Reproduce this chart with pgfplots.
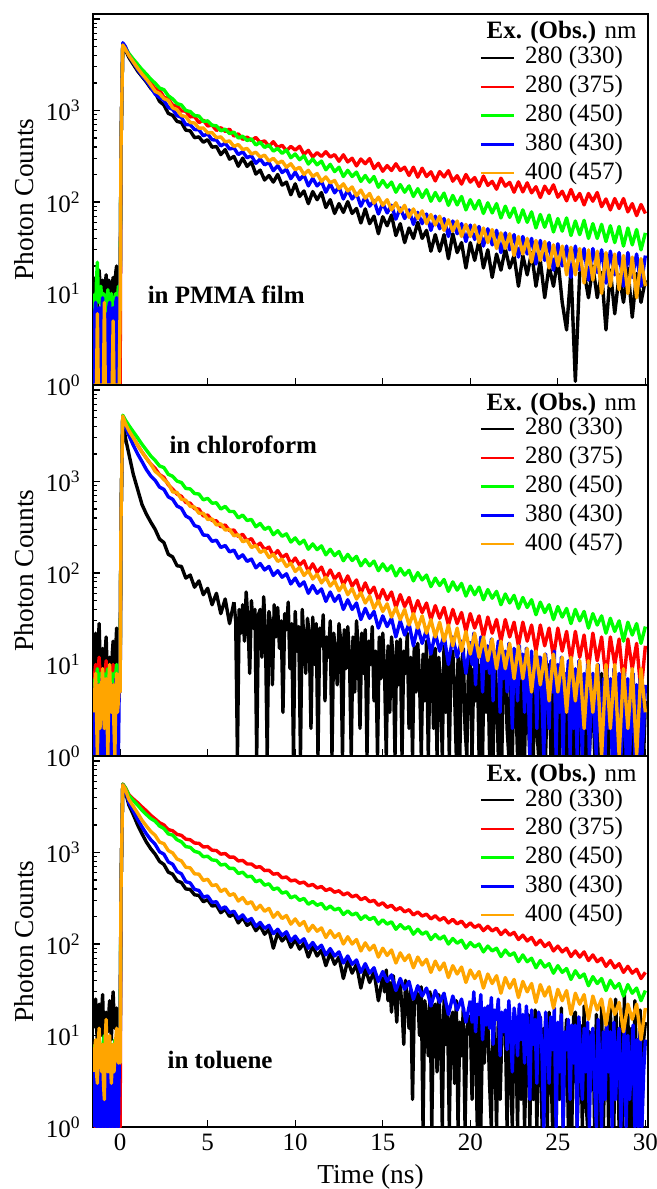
\documentclass[border=0pt]{standalone}
\usepackage{fontspec}
\setmainfont{Liberation Serif}
\usepackage{pgfplots}
\usepackage{pgfplotstable}
\pgfplotsset{compat=1.18}
\definecolor{cgreen}{RGB}{0,255,0}
\definecolor{corange}{RGB}{255,165,0}
\definecolor{cred}{RGB}{255,0,0}
\definecolor{cblue}{RGB}{0,0,255}
\newcommand\ls{\fontsize{12.5}{15}\selectfont}
\newcommand\lab{\fontsize{13.7}{16}\selectfont}

% PMMA film
\pgfplotstableread{
x k r g b o
-1.5 8 1 10 1 1
-1.45 12 1 7 6 1
-1.4 15 1 6 8 1
-1.35 9 1 14 1 1
-1.3 6 1 22 1 6
-1.25 11 1 10 5 1
-1.2 18 1 8 7 1
-1.15 13 1 9 1 1
-1.1 9 1 12 1 1
-1.05 10 1 8 6 1
-1.0 14 1 6 9 1
-0.95 11 1 10 1 1
-0.9 7 1 9 1 8
-0.85 12 1 7 5 1
-0.8 16 1 5 6 1
-0.75 8 1 9 1 1
-0.7 10 1 11 1 1
-0.65 14 1 8 7 1
-0.6 13 1 7 8 1
-0.55 9 1 9 1 1
-0.5 8 1 10 1 1
-0.45 12 1 7 6 1
-0.4 15 1 6 7 5
-0.35 10 1 8 1 1
-0.3 9 1 9 1 1
-0.25 17 1 10 8 1
-0.2 20 1 8 9 1
-0.15 14 1 9 1 1
-0.1 11 1 12 1 1
-0.05 9 1 10 7 1
0 12 1 10 8 8
0.05 400 400 400 400 400
0.15 5100 5300 5300 5500 5200
0.3 4600 4800 4900 5000 4700
0.5 3800 4000 4200 4000 4000
0.75 3200 3450 3650 3350 3400
1 2700 3000 3200 2800 2900
1.25 2350 2600 2800 2400 2500
1.5 2050 2300 2500 2100 2200
1.75 1750 2000 2200 1800 1900
2 1560 1735 1990 1510 1620
2.25 1260 1680 1760 1390 1530
2.5 1150 1400 1690 1290 1350
2.75 930 1345 1450 1080 1290
3 885 1145 1340 1030 1070
3.25 760 1120 1190 880 1020
3.5 740 990 1150 840 880
3.75 610 985 1000 700 860
4 600 853 975 700 740
4.25 505 860 880 620 730
4.5 515 738 870 615 640
4.75 450 786 760 530 645
5 480 678 770 555 570
5.25 398 694 690 480 575
5.5 404 606 680 475 505
5.75 330 650 600 410 515
6 374 591 625 440 455
6.25 294 626 560 380 465
6.5 315 525 580 390 405
6.75 246 556 500 330 425
7 302 484 525 355 375
7.25 245 513 470 305 385
7.5 274 470 490 320 335
7.75 202 508 420 265 350
8 223 448 450 295 310
8.25 174 466 395 255 325
8.5 195 406 420 270 280
8.75 165 456 360 220 300
9 200 394 385 250 265
9.25 153 417 340 210 280
9.5 165 364 370 228 240
9.75 120 405 305 180 262
10 158 369 335 212 225
10.25 115 406 290 175 240
10.5 132 332 320 198 200
10.75 96 367 260 150 222
11 130 311 295 182 190
11.25 106 346 255 150 205
11.5 127 315 280 168 168
11.75 87 355 225 128 188
12 106 310 258 158 162
12.25 75 329 215 126 172
12.5 96 279 240 146 140
12.75 77 328 190 108 158
13 101 274 222 135 132
13.25 75 301 190 108 146
13.5 85 248 212 124 117
13.75 59 295 168 90 135
14 84 262 195 114 110
14.25 58 298 165 90 124
14.5 70 232 190 104 97
14.75 45 265 145 74 113
15 69 217 172 97 92
15.25 55 250 145 76 106
15.5 72 221 165 92 82
15.75 43 262 128 65 98
16 58 221 155 86 78
16.25 36 240 128 66 92
16.5 52 195 150 82 68
16.75 40 240 115 57 84
17 60 187 140 77 66
17.25 40 234 112 58 80
17.5 49 190 136 74 58
17.75 29 214 102 49 73
18 44 170 127 70 56
18.25 29 215 103 51 70
18.5 44 188 125 66 49
18.75 24 220 92 42 64
19 45 169 118 62 48
19.25 28 194 93 45 62
19.5 36 157 115 58 42
19.75 19 200 82 37 57
20 36 165 106 56 42
20.25 23 185 84 39 56
20.5 38 148 104 54 36
20.75 19 192 75 33 52
21 30 152 98 51 36
21.25 15 168 76 34 50
21.5 27 138 96 49 31
21.75 18 182 67 28 46
22 31 149 90 46 31
22.25 19 164 68 30 45
22.5 26 128 86 44 26
22.75 12 166 60 25 42
23 26 129 82 42 27
23.25 16 162 60 27 40
23.5 28 126 78 40 22
23.75 12 147 52 21 38
24 23 112 73 38 23
24.25 9 149 53 23 37
24.5 20 124 72 36 19
24.75 12 154 47 18 34
25 24 113 66 35 20
25.25 8 131 48 20 33
25.5 4 103 67 33 16
25.75 18 137 43 15 32
26 1.1 104 62 33 16
26.25 17 124 44 18 31
26.5 17 93 63 31 13
26.75 9 124 40 14 30
27 20 102 58 31 14
27.25 9 127 40 17 29
27.5 17 89 57 30 10
27.75 4 108 37 13 28
28 18 82 55 29 12
28.25 6 109 36 16 27
28.5 16 85 54 28 11
28.75 8 109 33 12 26
29 19 78 52 28 10
29.25 5.5 96 34 15 25
29.5 16.5 71 50 27 9
29.75 8 94 30 12 24
30 14 75 46 26 12
}\tA

% chloroform
\pgfplotstableread{
x k r g b o
-1.5 9 6 7 1 3
-1.45 14 8 6 5 5
-1.4 22 10 5 6 8
-1.35 10 6 7 1 3
-1.3 6 4 9 1 1
-1.25 16 9 6 6 5
-1.2 28 12 5 5 6
-1.15 12 8 7 1 2
-1.1 8 7 8 1 4
-1.05 11 6 6 7 6
-1.0 15 9 6 7 9
-0.95 9 7 8 1 3
-0.9 5 5 7 1 2
-0.85 14 8 6 6 5
-0.8 20 11 5 4 7
-0.75 10 6 8 1 3
-0.7 7 4 9 1 1
-0.65 9 7 7 5 6
-0.6 12 8 6 6 10
-0.55 8 5 7 1 4
-0.5 6 6 8 1 3
-0.45 13 8 6 6 5
-0.4 18 10 5 5 6
-0.35 9 6 8 1 2
-0.3 4 3 7 1 1
-0.25 15 7 8 7 5
-0.2 25 9 10 6 8
-0.15 14 8 7 1 3
-0.1 10 7 6 1 4
-0.05 12 9 8 6 6
0 10 8 8 5 5
0.05 400 400 400 400 400
0.15 5000 5200 5300 5100 5200
0.3 3000 4300 4700 4000 4300
0.5 2000 3600 4100 3200 3600
0.75 1200 3000 3500 2500 3000
1 820 2500 3000 2000 2500
1.25 560 2100 2550 1650 2100
1.5 440 1800 2200 1350 1800
1.75 360 1550 1900 1150 1550
2 300 1390 1700 1030 1290
2.25 235 1190 1480 870 1180
2.5 215 1110 1420 820 1050
2.75 160 920 1200 680 950
3 150 825 1140 640 770
3.25 120 730 1010 540 760
3.5 118 690 975 510 640
3.75 88 590 840 420 625
4 95 580 830 395 535
4.25 70 505 740 330 525
4.5 82 500 730 318 450
4.75 58 420 630 260 450
5 68 430 655 258 385
5.25 45 375 580 222 390
5.5 60 372 585 228 335
5.75 36 320 500 190 345
6 52 335 535 200 295
6.25 28 290 470 170 300
6.5 48 295 470 178 255
6.75 1 250 400 145 262
7 45 265 430 158 220
7.25 20 225 375 134 228
7.5 62 238 385 142 190
7.75 15 195 320 114 200
8 40 212 348 127 168
8.25 10 180 300 108 178
8.5 35 192 318 118 148
8.75 6 155 262 94 160
9 42 176 290 106 134
9.25 12 148 252 90 142
9.5 30 160 268 98 118
9.75 3 126 218 76 128
10 38 146 242 88 104
10.25 8 122 208 72 116
10.5 28 136 228 80 94
10.75 1 104 182 60 106
11 33 126 208 73 86
11.25 6 102 180 60 97
11.5 25 116 198 67 78
11.75 2 88 158 49 90
12 30 108 182 62 72
12.25 9 86 155 49 82
12.5 22 99 172 57 64
12.75 1 74 136 40 75
13 26 93 160 51 58
13.25 5 72 137 40 68
13.5 20 84 152 47 52
13.75 2 60 120 31 61
14 24 78 140 41 47
14.25 1 60 120 32 56
14.5 18 70 135 38 41
14.75 4 50 106 25 50
15 22 66 126 34 38
15.25 1 51 106 26 46
15.5 16 62 120 32 33
15.75 3 42 93 20 42
16 19 58 112 30 31
16.25 1 43 95 21 40
16.5 14 54 107 28 27
16.75 2 36 82 16 36
17 17 50 101 26 25
17.25 1 37 84 17 34
17.5 13 47 95 24 22
17.75 4 31 71 13 31
18 15 44 88 22 20
18.25 1 32 73 14 29
18.5 12 42 85 21 18
18.75 1 27 63 10 27
19 14 40 80 20 16
19.25 2 28 65 12 25
19.5 11 37 77 18 14
19.75 1 23 56 8 23
20 13 36 72 18 13
20.25 3 25 58 10 22
20.5 10 34 70 16 12
20.75 1 20 51 6 20
21 12 33 66 16 11
21.25 1 22 53 8 19
21.5 9 31 63 14 9
21.75 2 18 45 5 18
22 11 31 59 14 9
22.25 1 20 47 7 17
22.5 9 29 57 13 7
22.75 1 16 41 4 16
23 10 29 54 13 7
23.25 3 18 42 6 15
23.5 8 27 51 12 5
23.75 1 14 35 3 14
24 9 27 48 12 6
24.25 1 16 37 5 13
24.5 8 25 45 11 4
24.75 2 12 31 2 13
25 8 25 43 10 5
25.25 1 14 33 4 12
25.5 7 23 41 10 3
25.75 1 11 28 1 12
26 7 23 40 9 4
26.25 2 12 30 3 11
26.5 6 21 38 9 2
26.75 1 9 25 1 11
27 7 22 36 8 3
27.25 1 11 27 2 10
27.5 5 20 34 8 1
27.75 1 7 22 1 10
28 6 20 32 7 2
28.25 2 10 23 2 10
28.5 5 19 30 7 1
28.75 1 6 18 1 9
29 5 19 29 7 2
29.25 1 9 21 1 9
29.5 4 17 28 6 1
29.75 1 5 17 1 9
30 4 16 26 6 3
}\tB

% toluene
\pgfplotstableread{
x k r g b o
-1.5 12 1 8 1 4
-1.45 18 1 7 4 7
-1.4 25 1 6 5 9
-1.35 14 1 8 1 4
-1.3 8 1 9 1 3
-1.25 15 1 7 5 8
-1.2 22 1 5 4 12
-1.15 13 1 7 1 6
-1.1 10 1 8 1 5
-1.05 19 1 7 5 4
-1.0 28 1 6 6 8
-0.95 12 1 9 1 3
-0.9 7 1 10 1 2
-0.85 13 1 7 4 9
-0.8 18 1 5 4 15
-0.75 12 1 6 1 6
-0.7 11 1 7 1 4
-0.65 17 1 6 5 7
-0.6 24 1 6 5 10
-0.55 14 1 7 1 5
-0.5 9 1 8 1 3
-0.45 20 1 6 4 6
-0.4 30 1 5 3 8
-0.35 16 1 7 1 4
-0.3 12 1 9 1 6
-0.25 15 1 7 5 9
-0.2 20 1 6 5 12
-0.15 16 1 7 1 7
-0.1 14 1 7 1 5
-0.05 11 1 8 5 6
0 14 1 8 5 5
0.05 400 400 400 400 400
0.15 5500 5600 5600 5500 5500
0.3 4600 5100 5100 4800 4900
0.5 3300 4300 4200 3500 3800
0.75 2600 3850 3700 2850 3200
1 2000 3500 3300 2300 2700
1.25 1600 3150 2900 1900 2250
1.5 1300 2850 2600 1600 1950
1.75 1100 2550 2350 1380 1700
2 960 2330 2200 1230 1540
2.25 800 2120 1950 1020 1300
2.5 740 2000 1830 960 1250
2.75 610 1780 1600 790 1050
3 580 1730 1550 745 990
3.25 490 1580 1380 620 850
3.5 470 1540 1310 585 810
3.75 400 1400 1160 480 690
4 395 1380 1140 465 680
4.25 345 1270 1030 395 585
4.5 340 1260 1000 385 580
4.75 290 1150 900 325 495
5 305 1160 910 335 510
5.25 260 1060 830 285 435
5.5 265 1050 820 290 445
5.75 220 960 730 240 375
6 240 975 745 255 400
6.25 200 890 670 220 340
6.5 212 890 670 228 355
6.75 170 810 590 190 295
7 195 820 610 208 322
7.25 160 750 545 178 275
7.5 172 750 550 190 290
7.75 140 690 480 156 238
8 158 700 500 172 265
8.25 128 635 440 148 228
8.5 145 640 455 160 245
8.75 90 580 395 130 196
9 132 590 410 145 222
9.25 108 530 360 124 190
9.5 122 540 372 136 205
9.75 92 490 320 108 165
10 112 500 335 122 188
10.25 88 462 300 104 160
10.5 102 475 315 114 176
10.75 72 432 272 90 138
11 95 448 292 104 160
11.25 74 410 265 88 138
11.5 86 425 278 97 150
11.75 58 385 240 76 118
12 80 402 260 89 140
12.25 60 368 236 74 118
12.5 72 382 246 82 130
12.75 42 345 210 62 100
13 66 362 230 74 120
13.25 48 328 208 60 100
13.5 60 342 218 67 112
13.75 33 305 186 49 84
14 54 322 204 61 103
14.25 38 290 185 48 86
14.5 50 300 196 55 97
14.75 24 265 165 39 72
15 44 282 184 50 90
15.25 28 252 165 39 75
15.5 40 265 175 46 86
15.75 14 235 145 31 62
16 36 250 163 42 80
16.25 8 225 146 32 66
16.5 32 237 155 39 76
16.75 2 208 128 25 55
17 28 224 145 35 72
17.25 6 202 128 27 59
17.5 25 212 136 33 68
17.75 1 188 112 21 49
18 22 204 127 31 65
18.25 4 182 113 23 52
18.5 20 195 122 29 62
18.75 1 170 100 17 43
19 18 186 115 27 58
19.25 3 166 102 19 47
19.5 17 178 110 25 56
19.75 1 154 90 14 38
20 16 170 104 24 52
20.25 2 152 93 16 42
20.5 15 162 100 22 50
20.75 1 140 82 11 33
21 14 156 95 21 47
21.25 3 139 84 14 37
21.5 14 149 90 20 45
21.75 1 127 73 9 29
22 13 142 86 19 43
22.25 2 125 75 12 33
22.5 13 134 80 18 41
22.75 1 112 64 7 26
23 13 125 76 17 39
23.25 1 108 64 10 30
23.5 12 118 70 16 37
23.75 2 98 55 5 23
24 16 110 66 15 36
24.25 1 94 56 8 27
24.5 12 103 61 14 34
24.75 1 84 48 4 20
25 12 95 58 14 32
25.25 2 82 49 6 24
25.5 11 90 54 13 31
25.75 1 73 41 3 17
26 18 84 51 13 29
26.25 1 72 43 5 22
26.5 11 82 47 12 28
26.75 2 66 35 2 15
27 11 76 44 12 27
27.25 1 64 37 4 19
27.5 10 70 42 11 25
27.75 1 57 31 1 13
28 20 66 40 11 25
28.25 1 55 33 3 17
28.5 10 61 37 10 23
28.75 2 49 27 1 11
29 17 57 36 10 22
29.25 1 48 29 2 15
29.5 10 53 33 9 22
29.75 1 42 24 1 9
30 14 49 31 9 20
}\tC

\pgfplotsset{
  panel/.style={
    width=277.5pt, height=185.5pt, scale only axis,
    xmin=-1.55, xmax=30.15,
    ymin=1, ymax=11350,
    xtick={0,5,10,15,20,25,30},
    ytick={1,10,100,1000,10000},
    yticklabels={10\textsuperscript{0},10\textsuperscript{1},10\textsuperscript{2},10\textsuperscript{3},{}},
    minor ytick={2,3,4,5,6,7,8,9,20,30,40,50,60,70,80,90,200,300,400,500,600,700,800,900,2000,3000,4000,5000,6000,7000,8000,9000},
    tick pos=left, tick align=inside,
    major tick length=3.5pt, minor tick length=2pt,
    axis line style={line width=0.8pt},
    every tick/.style={black, line width=0.6pt},
    tick label style={font=\ls},
    yticklabel style={anchor=east, inner sep=0pt, xshift=-6pt},
    legend cell align=left,
    legend style={draw=none, fill=none, at={(rel axis cs:1,1)}, anchor=north east,
      xshift=-12.5pt, yshift=-16pt, inner sep=0pt, outer sep=0pt, row sep=2.4pt,
      font=\ls, nodes={inner sep=0pt, text height=9pt, text depth=3pt},
      /tikz/every odd column/.append style={column sep=5pt}},
    legend image code/.code={\draw[##1, line width=1.2pt] (0pt,0pt) -- (16.5pt,0pt);},
  },
  curve/.style={line width=1.7pt, line join=round},
}

\begin{document}
\begin{tikzpicture}
\useasboundingbox (0,0) rectangle (328.5pt,594.5pt);

\begin{semilogyaxis}[panel, name=p1, at={(46.5pt,402pt)}, anchor=south west, xticklabels={}]
\addplot[black, curve] table[x=x,y=k]{\tA}; \addlegendentry{280 (330)}
\addplot[cred, curve] table[x=x,y=r]{\tA}; \addlegendentry{280 (375)}
\addplot[cgreen, curve] table[x=x,y=g]{\tA}; \addlegendentry{280 (450)}
\addplot[cblue, curve] table[x=x,y=b]{\tA}; \addlegendentry{380 (430)}
\addplot[corange, curve] table[x=x,y=o]{\tA}; \addlegendentry{400 (457)}
\node[font=\ls\bfseries] at (axis cs:6.06,9.6) {in PMMA film};
\end{semilogyaxis}

\begin{semilogyaxis}[panel, name=p2, at={(46.5pt,216.5pt)}, anchor=south west, xticklabels={}]
\addplot[black, curve, restrict x to domain=-2:6.5] table[x=x,y=k]{\tB}; \addlegendentry{280 (330)}
\addplot[black, curve, forget plot] coordinates {
(6.5,48)(6.6,30)(6.7,1)(6.8,40)(6.9,22)
(7,45)(7.1,18)(7.2,62)(7.3,30)(7.4,8)(7.5,50)(7.6,25)(7.7,40)(7.8,1)(7.9,35)
(8,40)(8.1,12)(8.2,55)(8.3,22)(8.4,1)(8.5,38)(8.6,28)(8.7,6)(8.8,45)(8.9,20)
(9,42)(9.1,15)(9.2,30)(9.3,3)(9.4,36)(9.5,24)(9.6,48)(9.7,9)(9.8,28)(9.9,1)
(10,38)(10.1,14)(10.2,26)(10.3,1)(10.4,40)(10.5,18)(10.6,8)(10.7,32)(10.8,22)(10.9,2)
(11,33)(11.1,10)(11.2,28)(11.3,1)(11.4,25)(11.5,16)(11.6,35)(11.7,4)(11.8,20)(11.9,12)
(12,30)(12.1,1)(12.2,22)(12.3,14)(12.4,6)(12.5,28)(12.6,18)(12.7,1)(12.8,24)(12.9,9)
(13,26)(13.1,12)(13.2,1)(13.3,20)(13.4,5)(13.5,30)(13.6,15)(13.7,2)(13.8,22)(13.9,8)
(14,24)(14.1,1)(14.2,18)(14.3,10)(14.4,26)(14.5,4)(14.6,14)(14.7,1)(14.8,20)(14.9,7)
(15,22)(15.1,9)(15.2,1)(15.3,16)(15.4,3)(15.5,20)(15.6,11)(15.7,1)(15.8,18)(15.9,6)
(16,19)(16.1,1)(16.2,14)(16.3,8)(16.4,22)(16.5,2)(16.6,12)(16.7,1)(16.8,16)(16.9,5)
(17,17)(17.1,7)(17.2,1)(17.3,13)(17.4,4)(17.5,18)(17.6,1)(17.7,10)(17.8,15)(17.9,2)
(18,15)(18.1,1)(18.2,12)(18.3,6)(18.4,1)(18.5,16)(18.6,3)(18.7,11)(18.8,1)(18.9,13)
(19,14)(19.1,5)(19.2,1)(19.3,12)(19.4,1)(19.5,10)(19.6,15)(19.7,2)(19.8,1)(19.9,11)
(20,13)(20.1,1)(20.2,9)(20.3,4)(20.4,12)(20.5,1)(20.6,10)(20.7,1)(20.8,14)(20.9,3)
(21,12)(21.1,1)(21.2,8)(21.3,1)(21.4,11)(21.5,5)(21.6,1)(21.7,9)(21.8,1)(21.9,12)
(22,11)(22.1,2)(22.2,1)(22.3,10)(22.4,1)(22.5,8)(22.6,4)(22.7,1)(22.8,12)(22.9,1)
(23,10)(23.1,1)(23.2,7)(23.3,3)(23.4,1)(23.5,9)(23.6,1)(23.7,11)(23.8,2)(23.9,1)
(24,9)(24.1,1)(24.2,8)(24.3,1)(24.4,5)(24.5,10)(24.6,1)(24.7,7)(24.8,1)(24.9,3)
(25,8)(25.1,1)(25.2,9)(25.3,2)(25.4,1)(25.5,7)(25.6,1)(25.7,6)(25.8,4)(25.9,1)
(26,7)(26.1,1)(26.2,1)(26.3,8)(26.4,2)(26.5,6)(26.6,1)(26.7,9)(26.8,1)(26.9,3)
(27,7)(27.1,1)(27.2,5)(27.3,1)(27.4,1)(27.5,8)(27.6,2)(27.7,1)(27.8,6)(27.9,1)
(28,6)(28.1,2)(28.2,1)(28.3,7)(28.4,1)(28.5,4)(28.6,1)(28.7,6)(28.8,1)(28.9,1)
(29,5)(29.1,1)(29.2,6)(29.3,1)(29.4,3)(29.5,1)(29.6,5)(29.7,1)(29.8,7)(29.9,1)
(30,4)};
\addplot[cred, curve] table[x=x,y=r]{\tB}; \addlegendentry{280 (375)}
\addplot[cgreen, curve] table[x=x,y=g]{\tB}; \addlegendentry{280 (450)}
\addplot[cblue, curve, restrict x to domain=-2:20] table[x=x,y=b]{\tB}; \addlegendentry{380 (430)}
\addplot[cblue, curve, forget plot] coordinates {
(20,18)(20.1,10)(20.2,22)(20.3,6)(20.4,16)(20.5,12)(20.6,20)(20.7,5)(20.8,15)(20.9,9)
(21,16)(21.1,8)(21.2,19)(21.3,4)(21.4,14)(21.5,11)(21.6,18)(21.7,3)(21.8,13)(21.9,7)
(22,14)(22.1,5)(22.2,17)(22.3,9)(22.4,2)(22.5,15)(22.6,10)(22.7,4)(22.8,16)(22.9,7)
(23,13)(23.1,3)(23.2,15)(23.3,8)(23.4,1)(23.5,14)(23.6,6)(23.7,11)(23.8,2)(23.9,12)
(24,12)(24.1,4)(24.2,1)(24.3,13)(24.4,7)(24.5,2)(24.6,11)(24.7,5)(24.8,14)(24.9,1)
(25,10)(25.1,3)(25.2,12)(25.3,1)(25.4,8)(25.5,5)(25.6,11)(25.7,1)(25.8,9)(25.9,2)
(26,9)(26.1,1)(26.2,11)(26.3,4)(26.4,1)(26.5,8)(26.6,2)(26.7,10)(26.8,1)(26.9,6)
(27,8)(27.1,2)(27.2,1)(27.3,10)(27.4,3)(27.5,1)(27.6,7)(27.7,1)(27.8,9)(27.9,2)
(28,7)(28.1,1)(28.2,9)(28.3,1)(28.4,4)(28.5,8)(28.6,1)(28.7,2)(28.8,8)(28.9,1)
(29,7)(29.1,1)(29.2,3)(29.3,8)(29.4,1)(29.5,6)(29.6,1)(29.7,7)(29.8,1)(29.9,2)
(30,6)};
\addplot[corange, curve] table[x=x,y=o]{\tB}; \addlegendentry{400 (457)}
\node[font=\ls\bfseries] at (axis cs:7.03,2500) {in chloroform};
\end{semilogyaxis}

\begin{semilogyaxis}[panel, name=p3, at={(46.5pt,31pt)}, anchor=south west,
  xticklabels={0,5,10,15,20,25,30},
  xlabel={Time (ns)}, xlabel style={font=\lab}]
\addplot[black, curve, restrict x to domain=-2:15] table[x=x,y=k]{\tC}; \addlegendentry{280 (330)}
\addplot[black, curve, forget plot] coordinates {
(15,44)(15.1,30)(15.2,52)(15.3,24)(15.4,38)(15.5,18)(15.6,45)(15.7,28)(15.8,14)(15.9,36)
(16,36)(16.1,20)(16.2,8)(16.3,40)(16.4,26)(16.5,12)(16.6,32)(16.7,2)(16.8,22)(16.9,30)
(17,28)(17.1,10)(17.2,34)(17.3,1)(17.4,24)(17.5,16)(17.6,6)(17.7,30)(17.8,1)(17.9,20)
(18,22)(18.1,4)(18.2,28)(18.3,12)(18.4,1)(18.5,25)(18.6,8)(18.7,18)(18.8,1)(18.9,15)
(19,18)(19.1,3)(19.2,24)(19.3,1)(19.4,14)(19.5,6)(19.6,20)(19.7,1)(19.8,10)(19.9,16)
(20,16)(20.1,2)(20.2,22)(20.3,8)(20.4,1)(20.5,18)(20.6,1)(20.7,12)(20.8,5)(20.9,20)
(21,14)(21.1,3)(21.2,1)(21.3,19)(21.4,7)(21.5,1)(21.6,15)(21.7,2)(21.8,10)(21.9,17)
(22,13)(22.1,1)(22.2,18)(22.3,4)(22.4,1)(22.5,14)(22.6,9)(22.7,1)(22.8,20)(22.9,2)
(23,13)(23.1,1)(23.2,6)(23.3,17)(23.4,1)(23.5,11)(23.6,2)(23.7,19)(23.8,1)(23.9,8)
(24,16)(24.1,1)(24.2,12)(24.3,3)(24.4,1)(24.5,18)(24.6,5)(24.7,1)(24.8,14)(24.9,1)
(25,12)(25.1,2)(25.2,20)(25.3,1)(25.4,7)(25.5,15)(25.6,1)(25.7,10)(25.8,1)(25.9,16)
(26,18)(26.1,1)(26.2,4)(26.3,13)(26.4,1)(26.5,21)(26.6,2)(26.7,1)(26.8,11)(26.9,6)
(27,11)(27.1,1)(27.2,17)(27.3,3)(27.4,1)(27.5,22)(27.6,1)(27.7,9)(27.8,14)(27.9,1)
(28,20)(28.1,2)(28.2,1)(28.3,25)(28.4,6)(28.5,1)(28.6,16)(28.7,1)(28.8,28)(28.9,3)
(29,17)(29.1,1)(29.2,12)(29.3,1)(29.4,24)(29.5,4)(29.6,1)(29.7,19)(29.8,1)(29.9,9)
(30,14)};
\addplot[cred, curve] table[x=x,y=r]{\tC}; \addlegendentry{280 (375)}
\addplot[cgreen, curve] table[x=x,y=g]{\tC}; \addlegendentry{280 (450)}
\addplot[cblue, curve, restrict x to domain=-2:20] table[x=x,y=b]{\tC}; \addlegendentry{380 (430)}
\addplot[cblue, curve, forget plot] coordinates {
(20,24)(20.1,14)(20.2,30)(20.3,11)(20.4,22)(20.5,17)(20.6,28)(20.7,9)(20.8,20)(20.9,13)
(21,21)(21.1,12)(21.2,26)(21.3,8)(21.4,19)(21.5,15)(21.6,25)(21.7,6)(21.8,18)(21.9,11)
(22,19)(22.1,7)(22.2,24)(22.3,12)(22.4,4)(22.5,20)(22.6,14)(22.7,6)(22.8,22)(22.9,9)
(23,17)(23.1,5)(23.2,21)(23.3,11)(23.4,2)(23.5,19)(23.6,8)(23.7,15)(23.8,3)(23.9,18)
(24,15)(24.1,6)(24.2,1)(24.3,18)(24.4,10)(24.5,3)(24.6,16)(24.7,7)(24.8,20)(24.9,1)
(25,14)(25.1,4)(25.2,17)(25.3,1)(25.4,11)(25.5,7)(25.6,15)(25.7,2)(25.8,13)(25.9,5)
(26,13)(26.1,1)(26.2,16)(26.3,6)(26.4,2)(26.5,12)(26.6,4)(26.7,14)(26.8,1)(26.9,9)
(27,12)(27.1,3)(27.2,1)(27.3,15)(27.4,5)(27.5,1)(27.6,11)(27.7,2)(27.8,13)(27.9,4)
(28,11)(28.1,1)(28.2,14)(28.3,2)(28.4,7)(28.5,12)(28.6,1)(28.7,4)(28.8,13)(28.9,1)
(29,10)(29.1,2)(29.2,5)(29.3,13)(29.4,1)(29.5,9)(29.6,1)(29.7,12)(29.8,1)(29.9,4)
(30,9)};
\addplot[corange, curve] table[x=x,y=o]{\tC}; \addlegendentry{400 (450)}
\node[font=\ls\bfseries] at (axis cs:5.71,5.4) {in toluene};
\end{semilogyaxis}

\node[anchor=east, inner sep=0pt, font=\ls] at (318.5pt,578pt) {\textbf{Ex. (Obs.)} nm};
\node[anchor=east, inner sep=0pt, font=\ls] at (318.5pt,392.5pt) {\textbf{Ex. (Obs.)} nm};
\node[anchor=east, inner sep=0pt, font=\ls] at (318.5pt,207pt) {\textbf{Ex. (Obs.)} nm};

\node[rotate=90, font=\lab] at (12pt,494.75pt) {Photon Counts};
\node[rotate=90, font=\lab] at (12pt,309.25pt) {Photon Counts};
\node[rotate=90, font=\lab] at (12pt,123.75pt) {Photon Counts};
\end{tikzpicture}
\end{document}
